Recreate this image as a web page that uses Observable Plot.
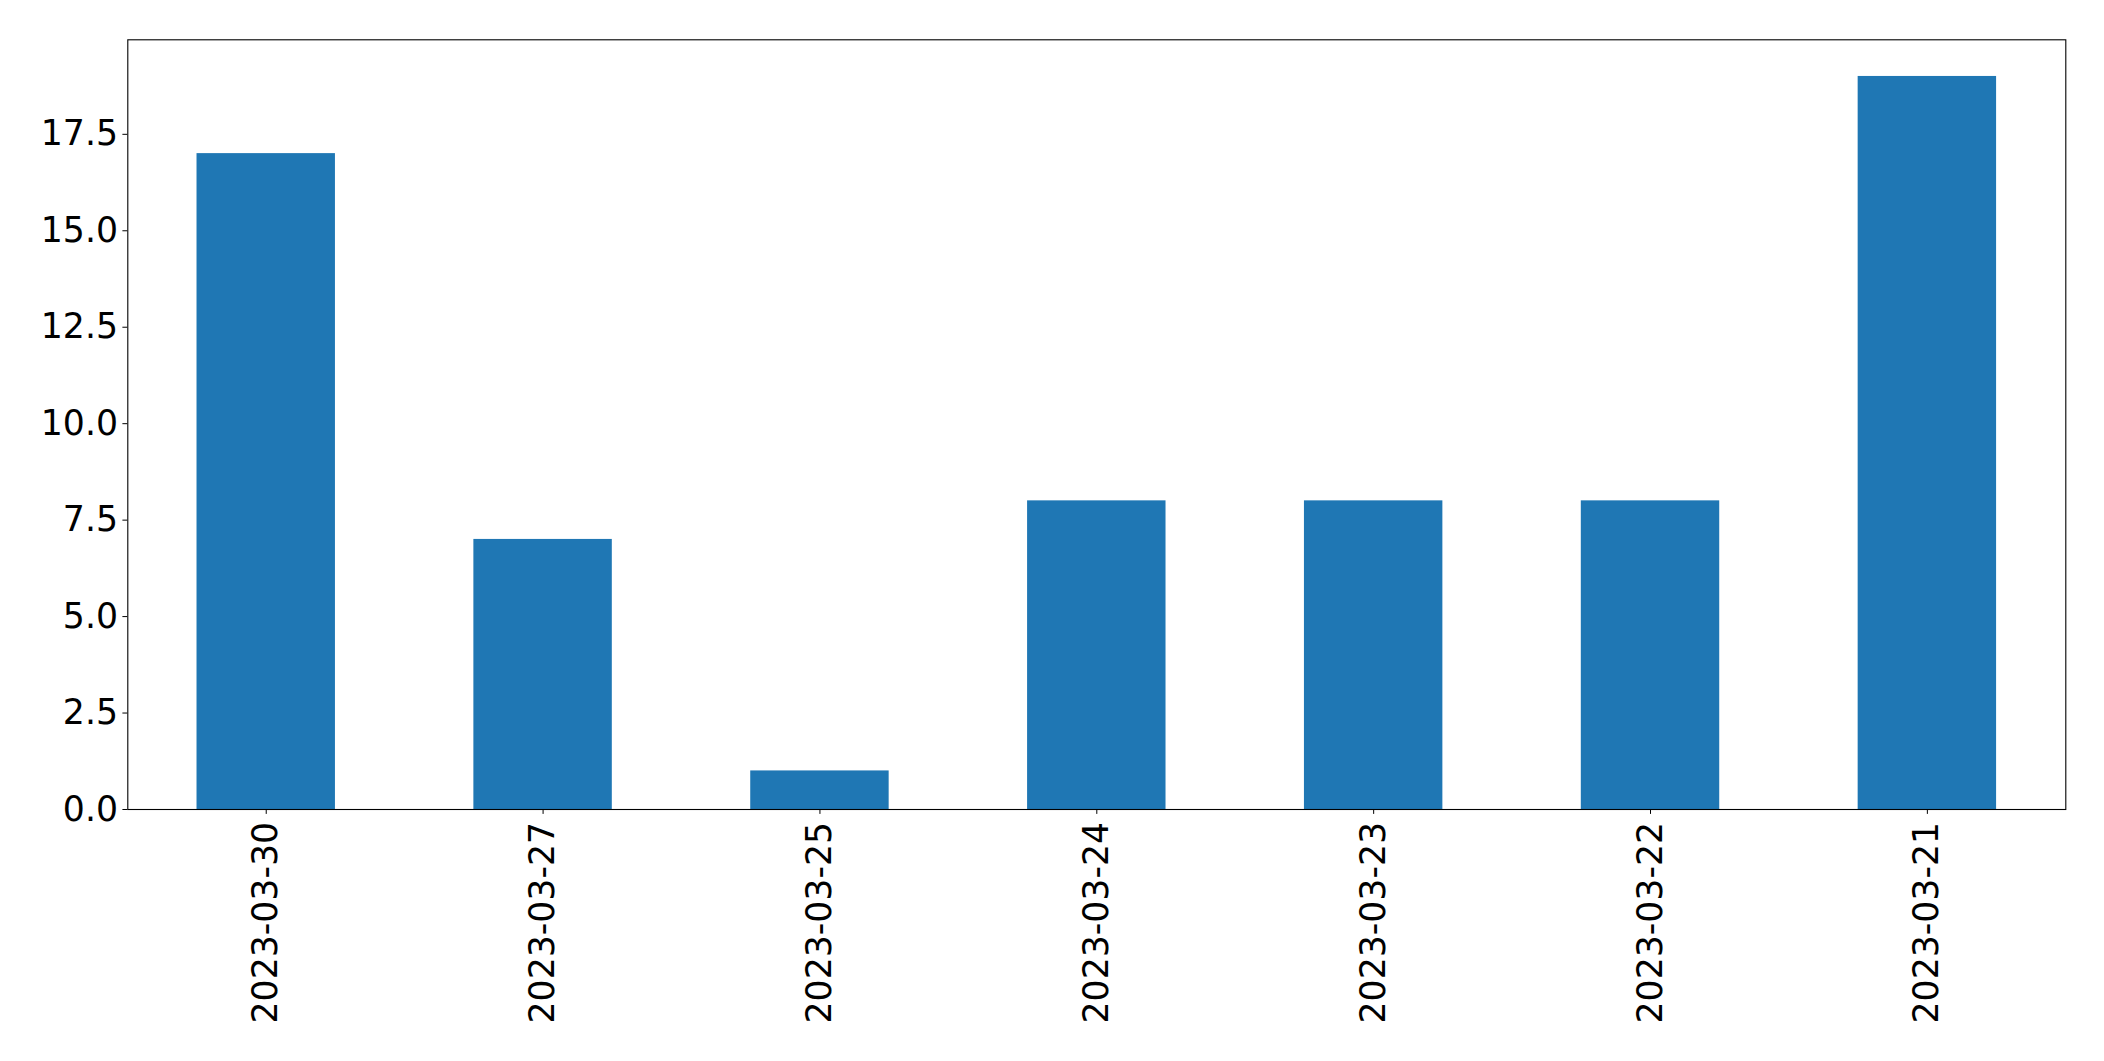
<!DOCTYPE html>
<html>
<head>
<meta charset="utf-8">
<script src="https://cdn.jsdelivr.net/npm/d3@7"></script>
<script src="https://cdn.jsdelivr.net/npm/@observablehq/plot@0.6"></script>
<style>
  html, body { margin: 0; padding: 0; background: #fff; }
  #chart svg { display: block; }
</style>
</head>
<body>
<div id="chart"></div>
<script>
const categories = ["2023-03-30", "2023-03-27", "2023-03-25", "2023-03-24", "2023-03-23", "2023-03-22", "2023-03-21"];
const values = [17, 7, 1, 8, 8, 8, 19];
const yTicks = [0, 2.5, 5, 7.5, 10, 12.5, 15, 17.5];

const data = categories.map((c, i) => ({date: c, value: values[i]}));

const W = 2104, H = 1061;
const mL = 127.3, mR = 38.7, mT = 39.3, mB = 252;

const chart = Plot.plot({
  width: W,
  height: H,
  marginLeft: mL,
  marginRight: mR,
  marginTop: mT,
  marginBottom: mB,
  style: {fontFamily: "DejaVu Sans", fontSize: "34.7px", color: "#000", background: "#fff"},
  x: {type: "band", domain: categories, paddingInner: 0.5, paddingOuter: 0.25, align: 0.5, round: false, label: null},
  y: {domain: [0, 19.95], label: null},
  marks: [
    Plot.barY(data, {x: "date", y: "value", fill: "#1f77b4", inset: 0}),
    Plot.frame({stroke: "#000", strokeWidth: 1.1}),
    Plot.axisY({ticks: yTicks, tickFormat: d => d.toFixed(1), tickSize: 4.9, tickPadding: 4.9, label: null, fontSize: 34.7, stroke: "#000"}),
    Plot.axisX({tickRotate: -90, tickSize: 4.9, tickPadding: 7.5, label: null, fontSize: 34.7, stroke: "#000"})
  ]
});
document.getElementById("chart").appendChild(chart);
</script>
</body>
</html>
